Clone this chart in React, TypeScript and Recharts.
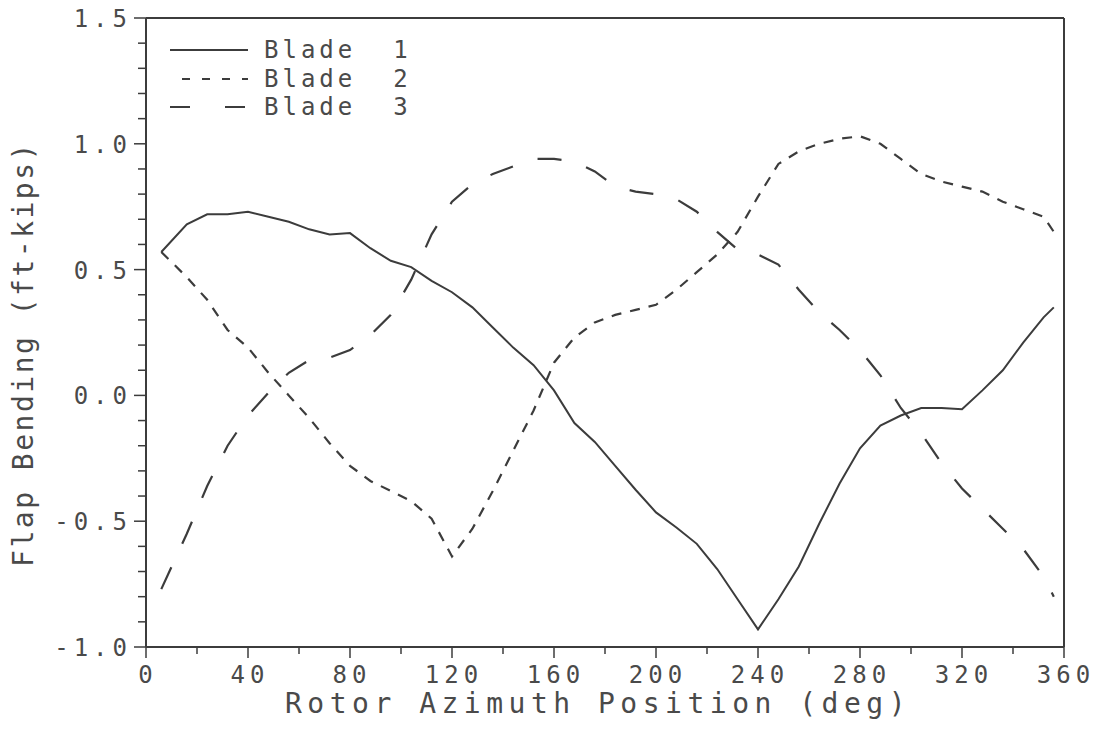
import React from 'react';
import { LineChart, Line, XAxis, YAxis, ReferenceLine } from 'recharts';

// azimuth stations (deg) and flap bending per blade (ft-kips)
const azimuth = [6, 16, 24, 32, 40, 48, 56, 64, 72, 80, 88, 96, 104, 112, 120, 128, 136, 144, 152, 160, 168, 176, 184, 192, 200, 208, 216, 224, 232, 240, 248, 256, 264, 272, 280, 288, 296, 304, 312, 320, 328, 336, 344, 352, 356];
const blade1 = [0.57, 0.68, 0.72, 0.72, 0.73, 0.71, 0.69, 0.66, 0.64, 0.645, 0.585, 0.535, 0.51, 0.455, 0.41, 0.35, 0.27, 0.19, 0.12, 0.02, -0.11, -0.185, -0.28, -0.375, -0.465, -0.525, -0.59, -0.69, -0.81, -0.93, -0.81, -0.68, -0.51, -0.35, -0.21, -0.12, -0.08, -0.05, -0.05, -0.055, 0.02, 0.1, 0.21, 0.31, 0.35];
const blade2 = [0.57, 0.47, 0.38, 0.26, 0.19, 0.09, 0.0, -0.09, -0.19, -0.28, -0.34, -0.38, -0.42, -0.49, -0.64, -0.53, -0.38, -0.22, -0.06, 0.13, 0.23, 0.29, 0.32, 0.34, 0.36, 0.42, 0.49, 0.56, 0.65, 0.79, 0.92, 0.97, 1.0, 1.02, 1.03, 1.0, 0.94, 0.88, 0.85, 0.83, 0.81, 0.77, 0.74, 0.71, 0.65];
const blade3 = [-0.77, -0.55, -0.36, -0.2, -0.08, 0.01, 0.09, 0.14, 0.15, 0.18, 0.24, 0.32, 0.46, 0.64, 0.77, 0.84, 0.88, 0.91, 0.94, 0.94, 0.93, 0.89, 0.83, 0.81, 0.8, 0.78, 0.73, 0.65, 0.58, 0.56, 0.52, 0.42, 0.33, 0.26, 0.18, 0.08, -0.05, -0.15, -0.27, -0.37, -0.45, -0.53, -0.61, -0.72, -0.8];

const xTicks = [0, 20, 40, 60, 80, 100, 120, 140, 160, 180, 200, 220, 240, 260, 280, 300, 320, 340, 360];
const yTicks = [-1.0, -0.9, -0.8, -0.7, -0.6, -0.5, -0.4, -0.3, -0.2, -0.1, 0.0, 0.1, 0.2, 0.3, 0.4, 0.5, 0.6, 0.7, 0.8, 0.9, 1.0, 1.1, 1.2, 1.3, 1.4, 1.5];

const data = azimuth.map((az, i) => ({ az, b1: blade1[i], b2: blade2[i], b3: blade3[i] }));

const INK = '#3c3c3c';
const TXT = '#4a4a4a';
const FONT = '"DejaVu Sans Mono", "Liberation Mono", monospace';

const XTick = (props: any) => {
  const { x, y, payload } = props;
  const major = payload.value % 40 === 0;
  return (
    <g>
      <line x1={x} x2={x} y1={y} y2={y + (major ? 11 : 7)} stroke={INK} strokeWidth={1.5} />
      {major && (
        <text x={x + 2} y={y + 36} textAnchor="middle" fontFamily={FONT} fontSize={24} letterSpacing={5} fill={TXT}>
          {payload.value}
        </text>
      )}
    </g>
  );
};

const YTick = (props: any) => {
  const { x, y, payload } = props;
  const major = Math.abs(Math.round(payload.value * 10)) % 5 === 0;
  return (
    <g>
      <line x1={x} x2={x - (major ? 12 : 8)} y1={y} y2={y} stroke={INK} strokeWidth={1.5} />
      {major && (
        <text x={x - 14} y={y + 9} textAnchor="end" fontFamily={FONT} fontSize={24} letterSpacing={5} fill={TXT}>
          {payload.value.toFixed(1)}
        </text>
      )}
    </g>
  );
};

const legendRows = [
  { name: 'Blade 1', dash: undefined, offset: 0 },
  { name: 'Blade 2', dash: '8 12', offset: -12 },
  { name: 'Blade 3', dash: '20 35', offset: 0 },
];

export default function App() {
  return (
    <div style={{ position: 'relative', width: 1094, height: 723, marginTop: -8, background: '#fff' }}>
      <LineChart width={1094} height={723} data={data} margin={{ top: 18, right: 38, left: 0, bottom: 0 }}>
        <XAxis
          dataKey="az"
          type="number"
          domain={[0, 360]}
          ticks={xTicks}
          interval={0}
          tickSize={0}
          tickMargin={0}
          tickLine={false}
          tick={<XTick />}
          height={76}
          axisLine={{ stroke: INK, strokeWidth: 2 }}
          label={{
            content: () => (
              <text x={590} y={713} textAnchor="middle" fontFamily={FONT} fontSize={28} letterSpacing={5.5} fill={TXT}>
                Rotor Azimuth Position (deg)
              </text>
            ),
          }}
        />
        <YAxis
          type="number"
          domain={[-1, 1.5]}
          ticks={yTicks}
          interval={0}
          tickSize={0}
          tickMargin={0}
          tickLine={false}
          tick={<YTick />}
          width={138}
          axisLine={{ stroke: INK, strokeWidth: 2 }}
          label={{
            content: () => (
              <text x={25} y={354} transform="rotate(-90 25 354)" textAnchor="middle" fontFamily={FONT} fontSize={28} letterSpacing={2.5} fill={TXT}>
                Flap Bending (ft-kips)
              </text>
            ),
          }}
        />
        <ReferenceLine y={1.5} stroke={INK} strokeWidth={2} />
        <ReferenceLine x={360} stroke={INK} strokeWidth={2} />
        <Line type="linear" dataKey="b1" stroke={INK} strokeWidth={2} dot={false} isAnimationActive={false} />
        <Line type="linear" dataKey="b2" stroke={INK} strokeWidth={2.2} strokeDasharray="10 9" dot={false} isAnimationActive={false} />
        <Line type="linear" dataKey="b3" stroke={INK} strokeWidth={2.2} strokeDasharray="24 26" dot={false} isAnimationActive={false} />
      </LineChart>
      <div style={{ position: 'absolute', left: 160, top: 36 }}>
        {legendRows.map((r) => (
          <div key={r.name} style={{ display: 'flex', alignItems: 'center', height: 28.5 }}>
            <svg width={82} height={10}>
              <line x1={2} x2={80} y1={5} y2={5} stroke={INK} strokeWidth={2} strokeDasharray={r.dash} strokeDashoffset={r.offset} />
            </svg>
            <span style={{ marginLeft: 14, fontFamily: FONT, fontSize: 24, letterSpacing: 4, color: TXT, whiteSpace: 'pre' }}>
              {r.name.replace(' ', '  ')}
            </span>
          </div>
        ))}
      </div>
    </div>
  );
}
